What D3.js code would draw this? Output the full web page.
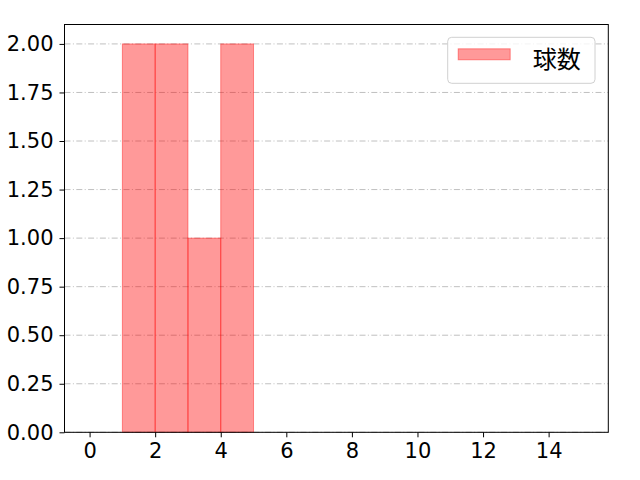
<!DOCTYPE html>
<html>
<head>
<meta charset="utf-8">
<script src="https://cdn.jsdelivr.net/npm/d3@7"></script>
<style>
  body { margin: 0; background: #fff; }
  text { font-family: "Noto Sans CJK JP", "DejaVu Sans", sans-serif; }
</style>
</head>
<body>
<svg width="640" height="480"></svg>
<script>
'use strict';

// histogram bins and counts
var binStarts = [1, 2, 3, 4];
var binWidth = 1;
var counts = [2, 2, 1, 2];
var xTicks = [0, 2, 4, 6, 8, 10, 12, 14];
var yTicks = [0, 0.25, 0.5, 0.75, 1.0, 1.25, 1.5, 1.75, 2.0];
var seriesName = '球数';

var margin = {top: 24.5, right: 31.7, bottom: 47.7, left: 64.5};
var width = 640 - margin.left - margin.right;
var height = 480 - margin.top - margin.bottom;

var svg = d3.select('svg');
var g = svg.append('g')
    .attr('transform', 'translate(' + margin.left + ',' + margin.top + ')');

var x = d3.scaleLinear().domain([-0.765, 15.82]).range([0, width]);
var y = d3.scaleLinear().domain([0, 2.1]).range([height, 0]);

// grid
g.selectAll('.grid')
    .data(yTicks)
    .enter().append('line')
    .attr('x1', 0).attr('x2', width)
    .attr('y1', function(d) { return y(d); })
    .attr('y2', function(d) { return y(d); })
    .attr('stroke', '#b0b0b0')
    .attr('stroke-width', 0.8)
    .attr('stroke-dasharray', '6,2.4,1,2.4');

// bars
g.selectAll('.bar')
    .data(binStarts)
    .enter().append('rect')
    .attr('x', function(d) { return x(d); })
    .attr('y', function(d, i) { return y(counts[i]); })
    .attr('width', function(d) { return x(d + binWidth) - x(d); })
    .attr('height', function(d, i) { return height - y(counts[i]); })
    .attr('fill', 'rgba(255,0,0,0.4)')
    .attr('stroke', 'rgba(255,0,0,0.4)')
    .attr('stroke-width', 1);

// axes
var xAxis = g.append('g')
    .attr('transform', 'translate(0,' + height + ')')
    .call(d3.axisBottom(x).tickValues(xTicks).tickSize(5).tickPadding(6).tickFormat(d3.format('d')));
var yAxis = g.append('g')
    .call(d3.axisLeft(y).tickValues(yTicks).tickSize(5).tickPadding(6).tickFormat(d3.format('.2f')));
[xAxis, yAxis].forEach(function(a) {
    a.select('.domain').remove();
    a.selectAll('line').attr('stroke', '#000').attr('stroke-width', 1);
    a.selectAll('text').attr('font-size', 21).attr('fill', '#000')
        .style('font-family', '"DejaVu Sans", sans-serif');
});

// frame
g.append('rect')
    .attr('width', width).attr('height', height)
    .attr('fill', 'none').attr('stroke', '#000').attr('stroke-width', 1);

// legend
var lg = g.append('g').attr('transform', 'translate(' + (447.7 - margin.left) + ',' + (37.3 - margin.top) + ')');
lg.append('rect')
    .attr('width', 147.3).attr('height', 46).attr('rx', 4)
    .attr('fill', 'rgba(255,255,255,0.8)').attr('stroke', '#d0d0d0').attr('stroke-width', 1);
lg.append('rect')
    .attr('x', 10.5).attr('y', 11.5).attr('width', 52).attr('height', 11)
    .attr('fill', 'rgba(255,0,0,0.4)').attr('stroke', 'rgba(255,0,0,0.4)');
lg.append('text')
    .attr('x', 85).attr('y', 31)
    .attr('font-size', 24).attr('fill', '#000')
    .text(seriesName);
</script>
</body>
</html>
